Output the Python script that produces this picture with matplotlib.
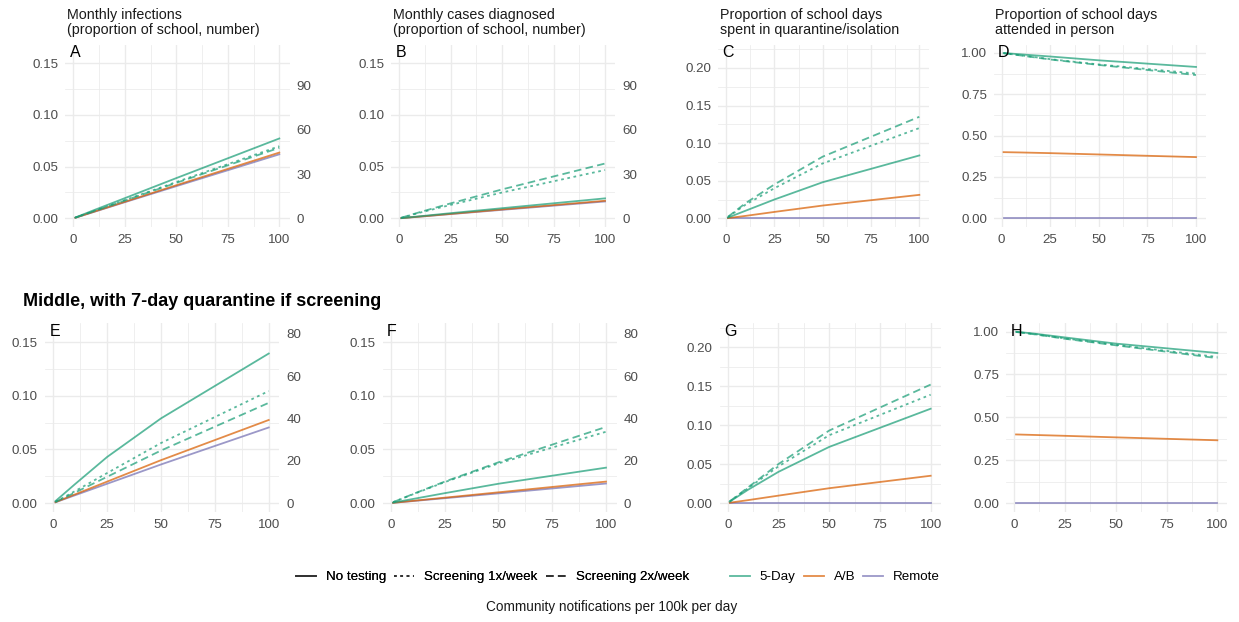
import matplotlib
matplotlib.use("Agg")
import matplotlib.pyplot as plt
from matplotlib.lines import Line2D
import numpy as np

plt.rcParams['font.family'] = ['Liberation Sans', 'DejaVu Sans']

# ---------------- data ----------------
x_notif = [1, 10, 25, 50, 100]

strategies = ["No testing", "Screening 1x/week", "Screening 2x/week"]
models = ["5-Day", "A/B", "Remote"]

# Top row (no subtitle shown)
A_5day_none = [0.0008, 0.0079, 0.0195, 0.0389, 0.0772]
A_5day_1x   = [0.0007, 0.0071, 0.0176, 0.0351, 0.0697]
A_5day_2x   = [0.0007, 0.0069, 0.0172, 0.0343, 0.0682]
A_ab        = [0.0006, 0.0064, 0.0160, 0.0320, 0.0636]
A_remote    = [0.0006, 0.0062, 0.0156, 0.0311, 0.0619]

B_5day_none = [0.0002, 0.0020, 0.0050, 0.0098, 0.0193]
B_5day_1x   = [0.0005, 0.0055, 0.0130, 0.0250, 0.0467]
B_5day_2x   = [0.0006, 0.0060, 0.0145, 0.0280, 0.0530]
B_ab        = [0.0002, 0.0017, 0.0043, 0.0086, 0.0170]
B_remote    = [0.0002, 0.0016, 0.0041, 0.0082, 0.0163]

C_5day_none = [0.0010, 0.0100, 0.0250, 0.0480, 0.0836]
C_5day_1x   = [0.0018, 0.0180, 0.0400, 0.0730, 0.1200]
C_5day_2x   = [0.0020, 0.0200, 0.0450, 0.0820, 0.1350]
C_ab        = [0.0003, 0.0032, 0.0085, 0.0170, 0.0312]
C_remote    = [0.0, 0.0, 0.0, 0.0, 0.0]

D_5day_none = [0.999, 0.991, 0.978, 0.955, 0.915]
D_5day_1x   = [0.998, 0.985, 0.962, 0.930, 0.875]
D_5day_2x   = [0.998, 0.984, 0.960, 0.927, 0.866]
D_ab        = [0.400, 0.398, 0.394, 0.386, 0.370]
D_remote    = [0.0, 0.0, 0.0, 0.0, 0.0]

# Bottom row: Middle, with 7-day quarantine if screening
E_5day_none = [0.0018, 0.0175, 0.0430, 0.0790, 0.1395]
E_5day_1x   = [0.0011, 0.0110, 0.0280, 0.0560, 0.1045]
E_5day_2x   = [0.0010, 0.0097, 0.0245, 0.0490, 0.0935]
E_ab        = [0.0008, 0.0080, 0.0200, 0.0400, 0.0775]
E_remote    = [0.0007, 0.0072, 0.0180, 0.0360, 0.0705]

F_5day_none = [0.0004, 0.0037, 0.0092, 0.0180, 0.0330]
F_5day_1x   = [0.0008, 0.0080, 0.0195, 0.0370, 0.0665]
F_5day_2x   = [0.0008, 0.0082, 0.0200, 0.0380, 0.0710]
F_ab        = [0.0002, 0.0020, 0.0050, 0.0100, 0.0200]
F_remote    = [0.0002, 0.0018, 0.0045, 0.0090, 0.0182]

G_5day_none = [0.0018, 0.0170, 0.0400, 0.0720, 0.1210]
G_5day_1x   = [0.0020, 0.0190, 0.0470, 0.0870, 0.1390]
G_5day_2x   = [0.0021, 0.0200, 0.0500, 0.0930, 0.1520]
G_ab        = [0.0004, 0.0037, 0.0095, 0.0190, 0.0350]
G_remote    = [0.0, 0.0, 0.0, 0.0, 0.0]

H_5day_none = [0.999, 0.988, 0.966, 0.930, 0.875]
H_5day_1x   = [0.998, 0.985, 0.960, 0.923, 0.852]
H_5day_2x   = [0.998, 0.984, 0.958, 0.920, 0.845]
H_ab        = [0.400, 0.397, 0.392, 0.383, 0.366]
H_remote    = [0.0, 0.0, 0.0, 0.0, 0.0]

titles_top = ["Monthly infections\n(proportion of school, number)",
              "Monthly cases diagnosed\n(proportion of school, number)",
              "Proportion of school days\nspent in quarantine/isolation",
              "Proportion of school days\nattended in person"]
subtitle_bottom = "Middle, with 7-day quarantine if screening"
panel_letters = ["A", "B", "C", "D", "E", "F", "G", "H"]

yticks_small = [0.00, 0.05, 0.10, 0.15]
yticks_quar = [0.00, 0.05, 0.10, 0.15, 0.20]
yticks_att = [0.00, 0.25, 0.50, 0.75, 1.00]
xticks = [0, 25, 50, 75, 100]
sec_ticks_top = [0, 30, 60, 90]
sec_ticks_bottom = [0, 20, 40, 60, 80]
school_size_top = 700
school_size_bottom = 507

xlabel = "Community notifications per 100k per day"

# ---------------- style ----------------
W, H = 1239, 622
fig = plt.figure(figsize=(W / 100, H / 100), dpi=100)

col = {"5-Day": "#1B9E77", "A/B": "#D95F02", "Remote": "#7570B3"}
ALPHA = 0.72
LW = 1.3
ls_map = {"No testing": "-", "Screening 1x/week": (0, (1.5, 2.0)),
          "Screening 2x/week": (0, (4.2, 2.4))}
TICKCOL = "#4D4D4D"
GRID = "#EBEBEB"
TS = 9.6

def rect(l, r, t, b):
    return [l / W, 1 - b / H, (r - l) / W, (b - t) / H]

# pixel boxes (left, right, top, bottom)
boxes = [
    (65.2, 289.5, 44.6, 226.6),
    (391.2, 615.2, 44.6, 226.6),
    (718.4, 928.9, 44.6, 226.6),
    (994.0, 1205.6, 44.6, 226.6),
    (44.8, 279.4, 323.0, 511.6),
    (382.5, 616.6, 323.0, 511.6),
    (719.7, 940.7, 323.0, 511.6),
    (1006.0, 1227.4, 323.0, 511.6),
]

panels = [
    (A_5day_none, A_5day_1x, A_5day_2x, A_ab, A_remote, "small", sec_ticks_top, school_size_top),
    (B_5day_none, B_5day_1x, B_5day_2x, B_ab, B_remote, "small", sec_ticks_top, school_size_top),
    (C_5day_none, C_5day_1x, C_5day_2x, C_ab, C_remote, "quar", None, None),
    (D_5day_none, D_5day_1x, D_5day_2x, D_ab, D_remote, "att", None, None),
    (E_5day_none, E_5day_1x, E_5day_2x, E_ab, E_remote, "small", sec_ticks_bottom, school_size_bottom),
    (F_5day_none, F_5day_1x, F_5day_2x, F_ab, F_remote, "small", sec_ticks_bottom, school_size_bottom),
    (G_5day_none, G_5day_1x, G_5day_2x, G_ab, G_remote, "quar", None, None),
    (H_5day_none, H_5day_1x, H_5day_2x, H_ab, H_remote, "att", None, None),
]

ycfg = {
    "small": dict(ticks=yticks_small, lim=(-0.008, 0.168), top=0.16, fmt="{:.2f}", minor=0.025),
    "quar": dict(ticks=yticks_quar, lim=(-0.011, 0.231), top=0.22, fmt="{:.2f}", minor=0.025),
    "att": dict(ticks=yticks_att, lim=(-0.05, 1.05), top=1.0, fmt="{:.2f}", minor=0.125),
}

XLIM = (-3.95, 104.95)

for i, (box, p) in enumerate(zip(boxes, panels)):
    none5, s1, s2, ab, rem, kind, sec, size = p
    cfg = ycfg[kind]
    ax = fig.add_axes(rect(*box))
    ax.set_xlim(*XLIM)
    ax.set_ylim(*cfg["lim"])
    # grid
    for xv in xticks:
        ax.axvline(xv, color=GRID, lw=1.0, zorder=0)
    for xv in [12.5, 37.5, 62.5, 87.5]:
        ax.axvline(xv, color=GRID, lw=0.55, zorder=0)
    yt = cfg["ticks"]
    for yv in yt:
        ax.axhline(yv, color=GRID, lw=1.0, zorder=0)
    mstep = cfg["minor"]
    for yv in np.arange(yt[0] + mstep, yt[-1], 2 * mstep):
        ax.axhline(yv, color=GRID, lw=0.55, zorder=0)
    if kind == "quar":
        ax.axhline(yt[-1] + mstep, color=GRID, lw=0.55, zorder=0)
    # lines
    ax.plot(x_notif, rem, color=col["Remote"], alpha=ALPHA, lw=LW, ls="-", zorder=3)
    ax.plot(x_notif, ab, color=col["A/B"], alpha=ALPHA, lw=LW, ls="-", zorder=3)
    ax.plot(x_notif, none5, color=col["5-Day"], alpha=ALPHA, lw=LW, ls="-", zorder=3)
    ax.plot(x_notif, s1, color=col["5-Day"], alpha=ALPHA, lw=LW, ls=ls_map["Screening 1x/week"], zorder=3)
    ax.plot(x_notif, s2, color=col["5-Day"], alpha=ALPHA, lw=LW, ls=ls_map["Screening 2x/week"], zorder=3)
    # ticks
    ax.set_xticks(xticks)
    ax.set_yticks(yt)
    ax.set_yticklabels([cfg["fmt"].format(v) for v in yt])
    ax.tick_params(length=0, labelsize=TS, colors=TICKCOL, pad=5)
    ax.tick_params(axis="x", pad=5)
    for s in ax.spines.values():
        s.set_visible(False)
    ax.set_facecolor("none")
    # panel letter
    ax.text(-1.8, cfg["top"], panel_letters[i], fontsize=11.5, color="black",
            ha="left", va="center", zorder=5)
    # secondary axis
    if sec is not None:
        sz = size
        sax = ax.secondary_yaxis("right", functions=(lambda v, s=sz: v * s, lambda v, s=sz: v / s))
        sax.set_yticks(sec)
        sax.set_yticklabels([str(v) for v in sec])
        sax.tick_params(length=0, labelsize=TS, colors=TICKCOL, pad=5)
        for s in sax.spines.values():
            s.set_visible(False)
    # titles
    if i < 4:
        fig.text((box[0] + 1.5) / W, 1 - 7.5 / H, titles_top[i], fontsize=10.3,
                 color="#1A1A1A", ha="left", va="top", linespacing=1.12)

fig.text(23 / W, 1 - 301.5 / H, subtitle_bottom, fontsize=13.0, fontweight="bold",
         color="black", ha="left", va="center")

# legends
h_ls = [Line2D([], [], color="#333333", lw=LW, ls=ls_map[s]) for s in strategies]
leg1 = fig.legend(h_ls, strategies, loc="center", bbox_to_anchor=(492.5 / W, 1 - 577 / H),
                  ncol=3, frameon=False, fontsize=9.6, handlelength=1.5,
                  columnspacing=0.6, handletextpad=0.75)
h_col = [Line2D([], [], color=col[m], lw=LW, alpha=ALPHA) for m in models]
leg2 = fig.legend(h_col, models, loc="center", bbox_to_anchor=(835 / W, 1 - 577 / H),
                  ncol=3, frameon=False, fontsize=9.6, handlelength=1.5,
                  columnspacing=0.6, handletextpad=0.75)
fig.add_artist(leg1)

fig.text(612 / W, 1 - 607 / H, xlabel, fontsize=9.8, color="#1A1A1A", ha="center", va="center")

fig.savefig("out.png", dpi=100, facecolor="white")
